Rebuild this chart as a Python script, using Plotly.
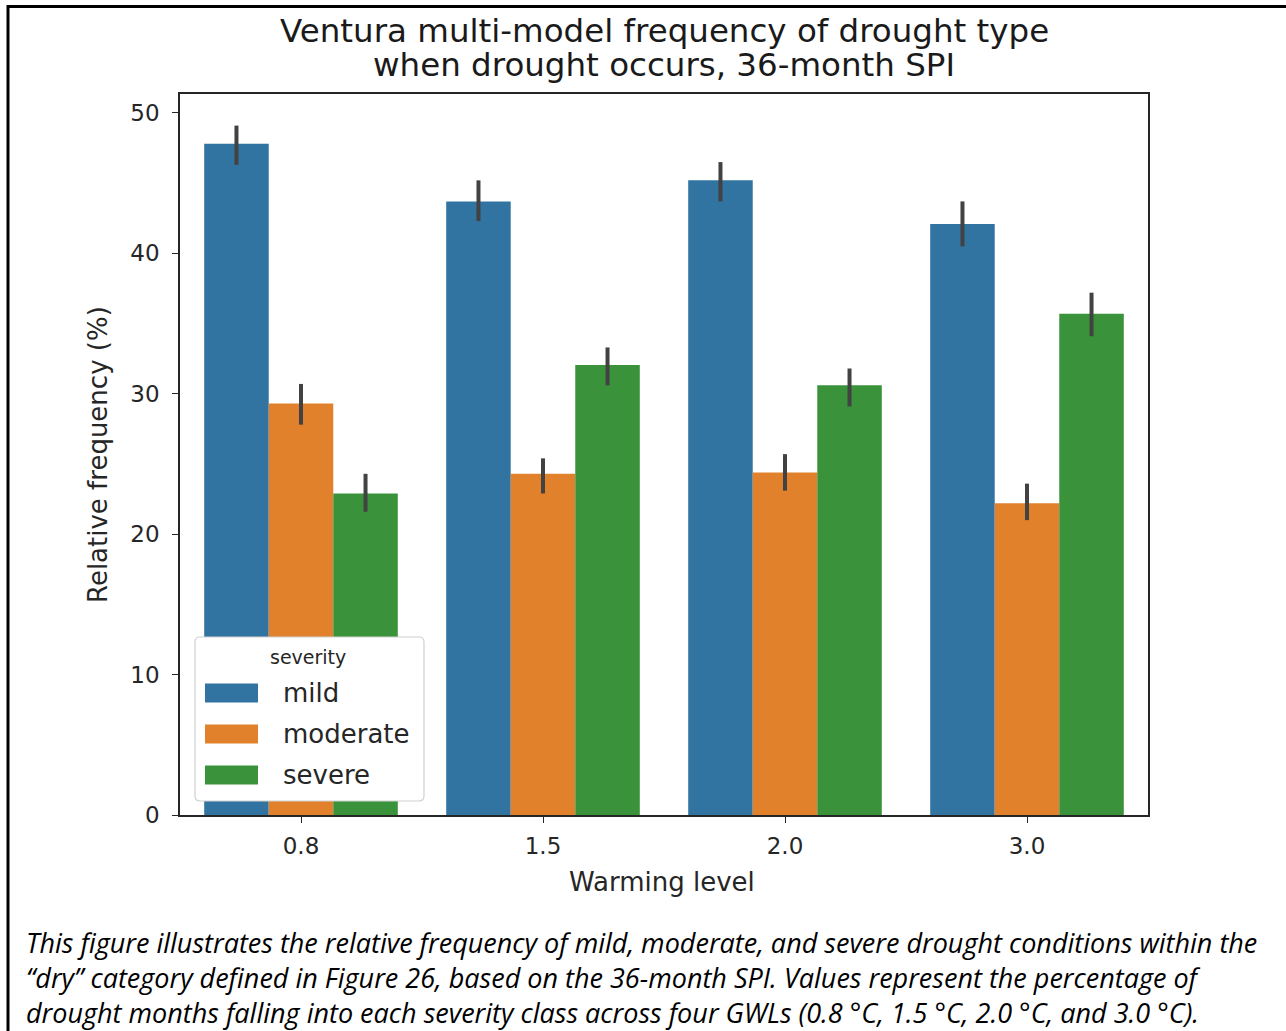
import plotly.graph_objects as go

# ---- data ----
warming_levels = ["0.8", "1.5", "2.0", "3.0"]
severities = ["mild", "moderate", "severe"]
mild = [47.8, 43.7, 45.2, 42.1]
moderate = [29.3, 24.3, 24.4, 22.2]
severe = [22.9, 32.05, 30.6, 35.7]
mild_hi = [49.1, 45.2, 46.5, 43.7]
mild_lo = [46.3, 42.3, 43.7, 40.5]
moderate_hi = [30.7, 25.4, 25.7, 23.6]
moderate_lo = [27.8, 22.9, 23.1, 21.0]
severe_hi = [24.3, 33.3, 31.8, 37.2]
severe_lo = [21.6, 30.6, 29.1, 34.1]
y_ticks = [0, 10, 20, 30, 40, 50]

title_lines = ["Ventura multi-model frequency of drought type",
               "when drought occurs, 36-month SPI"]
x_label = "Warming level"
y_label = "Relative frequency (%)"
legend_title = "severity"
caption_lines = [
    "This figure illustrates the relative frequency of mild, moderate, and severe drought conditions within the",
    "\u201cdry\u201d category defined in Figure 26, based on the 36-month SPI. Values represent the percentage of",
    "drought months falling into each severity class across four GWLs (0.8 \u00b0C, 1.5 \u00b0C, 2.0 \u00b0C, and 3.0 \u00b0C).",
]

colors = ["#3274a1", "#e1812c", "#3a923a"]
values = [mild, moderate, severe]
his = [mild_hi, moderate_hi, severe_hi]
los = [mild_lo, moderate_lo, severe_lo]

# ---- layout geometry (pixels) ----
W, H = 1286, 1031
L, R, T, B = 180, 1148, 94, 815
pw, ph = R - L, B - T


def px(x):
    return (x - L) / pw


def py(y):
    return (B - y) / ph


fig = go.Figure()
for name, vals, hi, lo, c in zip(severities, values, his, los, colors):
    fig.add_trace(go.Bar(
        x=warming_levels, y=vals, name=name,
        marker=dict(color=c, line=dict(width=0)),
        error_y=dict(type="data", symmetric=False,
                     array=[h - v for h, v in zip(hi, vals)],
                     arrayminus=[v - l for l, v in zip(lo, vals)],
                     color="#424242", thickness=4, width=0),
        showlegend=False,
    ))

axis_common = dict(showline=True, linecolor="#262626", linewidth=1.5, mirror=True,
                   ticks="outside", ticklen=6, tickwidth=1.3, tickcolor="#262626",
                   showgrid=False, zeroline=False,
                   tickfont=dict(family="DejaVu Sans", size=23, color="#262626"))

fig.update_layout(
    width=W, height=H,
    margin=dict(l=L, r=W - R, t=T, b=H - B, pad=0),
    paper_bgcolor="white", plot_bgcolor="white",
    barmode="group", bargap=0.2, bargroupgap=0,
    xaxis=dict(**axis_common, range=[-0.5, 3.5], type="category",
               ticklabelstandoff=4),
    yaxis=dict(**axis_common, range=[0, 51.35], tickvals=y_ticks,
               ticklabelstandoff=8),
    showlegend=False,
)

ann = []
shapes = []
# title
for i, t in enumerate(title_lines):
    ann.append(dict(text=t, x=px(664), y=py(31 + 34 * i), xref="paper", yref="paper",
                    showarrow=False, xanchor="center", yanchor="middle",
                    font=dict(family="DejaVu Sans", size=32.5, color="#1a1a1a")))
# axis labels
ann.append(dict(text=x_label, x=px(662), y=py(882), xref="paper", yref="paper",
                showarrow=False, xanchor="center", yanchor="middle",
                font=dict(family="DejaVu Sans", size=26, color="#262626")))
ann.append(dict(text=y_label, x=px(98), y=py(455), xref="paper", yref="paper",
                showarrow=False, xanchor="center", yanchor="middle", textangle=-90,
                font=dict(family="DejaVu Sans", size=26, color="#262626")))

# legend (manual)
lx0, lx1, ly0, ly1, r = 195, 424, 637, 801, 5
path = (f"M {px(lx0 + r)},{py(ly0)} L {px(lx1 - r)},{py(ly0)} Q {px(lx1)},{py(ly0)} {px(lx1)},{py(ly0 + r)} "
        f"L {px(lx1)},{py(ly1 - r)} Q {px(lx1)},{py(ly1)} {px(lx1 - r)},{py(ly1)} "
        f"L {px(lx0 + r)},{py(ly1)} Q {px(lx0)},{py(ly1)} {px(lx0)},{py(ly1 - r)} "
        f"L {px(lx0)},{py(ly0 + r)} Q {px(lx0)},{py(ly0)} {px(lx0 + r)},{py(ly0)} Z")
shapes.append(dict(type="path", path=path, xref="paper", yref="paper",
                   fillcolor="white", line=dict(color="#d0d0d0", width=1.2),
                   layer="above"))
ann.append(dict(text=legend_title, x=px(308), y=py(657), xref="paper", yref="paper",
                showarrow=False, xanchor="center", yanchor="middle",
                font=dict(family="DejaVu Sans", size=19, color="#262626")))
for i, (name, c) in enumerate(zip(severities, colors)):
    yc = 693 + 41 * i
    shapes.append(dict(type="rect", xref="paper", yref="paper",
                       x0=px(205), x1=px(258), y0=py(yc - 9.5), y1=py(yc + 9.5),
                       fillcolor=c, line=dict(width=0), layer="above"))
    ann.append(dict(text=name, x=px(281), y=py(yc), xref="paper", yref="paper",
                    showarrow=False, xanchor="left", yanchor="middle",
                    font=dict(family="DejaVu Sans", size=26, color="#262626")))

# caption
for i, t in enumerate(caption_lines):
    ann.append(dict(text=f"<i>{t}</i>", x=px(24), y=py(942 + 35.5 * i), xref="paper", yref="paper",
                    showarrow=False, xanchor="left", yanchor="middle",
                    font=dict(family="Open Sans", size=27, color="black")))

# outer frame
shapes.append(dict(type="rect", xref="paper", yref="paper",
                   x0=px(8), x1=px(1320), y0=py(6.5), y1=py(1080),
                   line=dict(color="black", width=3), fillcolor="rgba(0,0,0,0)", layer="above"))

fig.update_layout(annotations=ann, shapes=shapes)
fig.write_html("out.html", config={"displayModeBar": False},
               post_script="document.body.style.margin='0';document.body.style.overflow='hidden';")
